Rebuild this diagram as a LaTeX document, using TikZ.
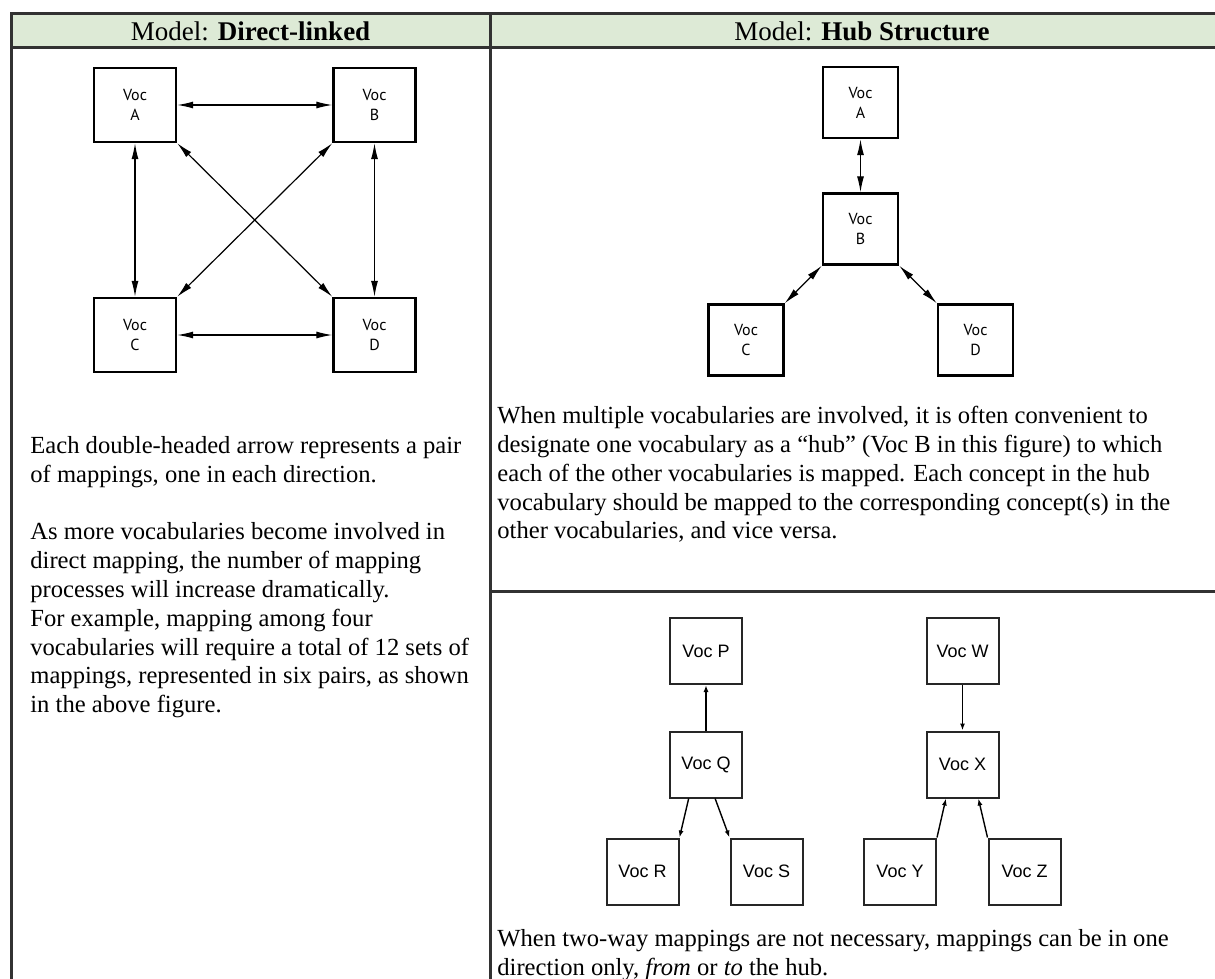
\documentclass[tikz,border=0pt]{standalone}
\usepackage{fontspec}
\setmainfont{Liberation Serif}
\setsansfont{Liberation Sans}
\newfontfamily\vocfont{PT Sans}
\usetikzlibrary{arrows.meta}
\definecolor{headgreen}{RGB}{221,234,214}
\definecolor{rulegray}{RGB}{50,50,50}

\begin{document}
\begin{tikzpicture}[x=0.5pt,y=-0.5pt,
    rule/.style={draw=rulegray,line width=1.5pt},
    voc/.style={shape=rectangle,draw=black,line width=1.2pt,minimum width=41pt,minimum height=37pt,
      align=center,inner sep=0pt,font=\vocfont\fontsize{8}{10}\selectfont},
    hubvoc/.style={voc,minimum width=37.5pt,minimum height=35.5pt},
    vocb/.style={shape=rectangle,draw=black!85,line width=1pt,minimum width=36pt,minimum height=33pt,
      inner sep=0pt,font=\sffamily\fontsize{9}{11}\selectfont},
    both/.style={line width=0.6pt,{Latex[length=8pt,width=3.5pt]}-{Latex[length=8pt,width=3.5pt]}},
    oneway/.style={line width=0.7pt,-{Latex[length=3.5pt,width=2.5pt]}},
    para/.style={anchor=north west,inner sep=0pt,align=left,font=\fontsize{12.3}{14.4}\selectfont},
    head/.style={font=\fontsize{13.5}{16}\selectfont}]
  \useasboundingbox (0,0) rectangle (1215,979);
  \clip (0,0) rectangle (1215,979);

  % table
  \fill[headgreen] (11,14) rectangle (1225,48);
  \draw[rule] (1225,14) -- (11,14) -- (11,990);
  \draw[rule] (11,48) -- (1225,48);
  \draw[rule] (490,14) -- (490,990);
  \draw[rule] (490,591) -- (1225,591);
  \node[head] (hleft) at (250.5,31) {Model: \textbf{Direct-linked}};
  \node[head] (hright) at (862,31) {Model: \textbf{Hub Structure}};

  % direct-linked
  \node[voc] (A) at (135,105) {Voc\\A};
  \node[voc] (B) at (374.5,105) {Voc\\B};
  \node[voc] (C) at (135,335) {Voc\\C};
  \node[voc] (D) at (374.5,335) {Voc\\D};

  \path (A) edge[both] (B);
  \path (C) edge[both] (D);
  \path (A) edge[both] (C);
  \path (B) edge[both] (D);
  \path (A.south east) edge[both] (D.north west);
  \path (B.south west) edge[both] (C.north east);

  \node[para] (textleft) at (30,436) {Each double-headed arrow represents a pair\\
    of mappings, one in each direction.\\[14.4pt]
    As more vocabularies become involved in\\
    direct mapping, the number of mapping\\
    processes will increase dramatically.\\
    For example, mapping among four\\
    vocabularies will require a total of 12 sets of\\
    mappings, represented in six pairs, as shown\\
    in the above figure.};

  % hub, two-way
  \node[hubvoc] (hA) at (860.5,102.5) {Voc\\A};
  \node[hubvoc] (hB) at (860.5,229) {Voc\\B};
  \node[hubvoc] (hC) at (746,340) {Voc\\C};
  \node[hubvoc] (hD) at (975.5,340) {Voc\\D};

  \path (hA) edge[both] (hB);
  \path (hB.south west) edge[both] (hC.north east);
  \path (hB.south east) edge[both] (hD.north west);

  \node[para] (texthub) at (497,406) {When multiple vocabularies are involved, it is often convenient to\\
    designate one vocabulary as a ``hub'' (Voc B in this figure) to which\\
    each of the other vocabularies is mapped. Each concept in the hub\\
    vocabulary should be mapped to the corresponding concept(s) in the\\
    other vocabularies, and vice versa.};

  % hub, one-way
  \node[vocb] (P) at (706,651) {Voc P};
  \node[vocb] (Q) at (706,764.5) {Voc Q};
  \node[vocb] (R) at (642.5,871.5) {Voc R};
  \node[vocb] (S) at (766.5,871.5) {Voc S};
  \node[vocb] (W) at (962.5,651) {Voc W};
  \node[vocb] (X) at (962.5,764.5) {Voc X};
  \node[vocb] (Y) at (900,871.5) {Voc Y};
  \node[vocb] (Z) at (1024.5,871.5) {Voc Z};

  \path (Q) edge[oneway] (P);
  \path (Q.243) edge[oneway] (R.north east);
  \path (Q.285) edge[oneway] (S.north west);
  \path (W) edge[oneway] (X);
  \path (Y.north east) edge[oneway] (X.244);
  \path (Z.north west) edge[oneway] (X.295);

  \node[para] (textone) at (497,929) {When two-way mappings are not necessary, mappings can be in one\\
    direction only, \textit{from} or \textit{to} the hub.};
\end{tikzpicture}
\end{document}
